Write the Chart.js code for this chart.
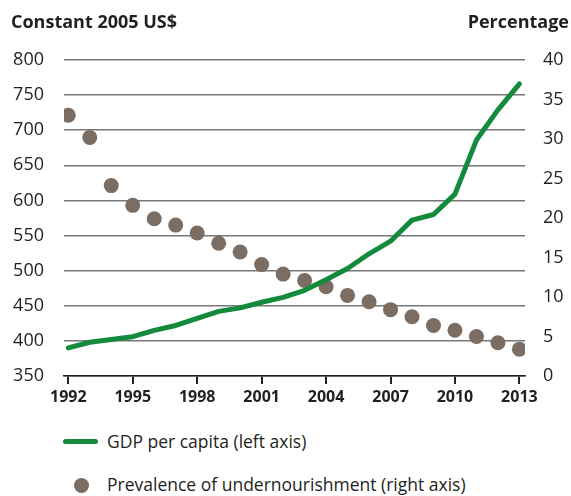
<!DOCTYPE html>
<html>
<head>
<meta charset="utf-8">
<script src="https://cdn.jsdelivr.net/npm/chart.js@4"></script>
<style>
  body { margin:0; background:#fff; font-family:"Open Sans", sans-serif; color:#231f20; }
  #wrap { position:relative; width:571px; height:496px; }
  #chart { position:absolute; left:0; top:0; }
  .title { position:absolute; top:12px; font-weight:bold; font-size:18px; line-height:18px; white-space:nowrap; }
  .leg { position:absolute; left:107px; font-size:17.5px; line-height:17.5px; white-space:nowrap; }
</style>
</head>
<body>
<div id="wrap">
  <canvas id="chart" width="571" height="420"></canvas>
  <div class="title" style="left:11px">Constant 2005 US$</div>
  <div class="title" style="right:2px">Percentage</div>
  <span style="position:absolute;left:63px;top:438.5px;width:35px;height:5px;background:#138a3c;border-radius:2.5px"></span>
  <div class="leg" style="top:433px">GDP per capita (left axis)</div>
  <span style="position:absolute;left:73.5px;top:477.5px;width:15px;height:15px;background:#7c6d63;border-radius:50%"></span>
  <div class="leg" style="top:476px">Prevalence of undernourishment (right axis)</div>
</div>
<script>
// GDP per capita vs. prevalence of undernourishment
const years = [1992,1993,1994,1995,1996,1997,1998,1999,2000,2001,2002,2003,2004,2005,2006,2007,2008,2009,2010,2011,2012,2013];
const gdp = [390,398,402,406,415,422,432,442,447,455,462,472,487,503,524,542,572,580,609,686,729,766];
const undernourishment = [33.0,30.2,24.1,21.6,19.9,19.1,18.1,16.8,15.7,14.1,12.9,12.1,11.3,10.2,9.4,8.4,7.5,6.4,5.8,5.0,4.2,3.4];
const yearTicks = [1992,1995,1998,2001,2004,2007,2010,2013];

const ink = "#231f20";
const ctx = document.getElementById("chart").getContext("2d");

new Chart(ctx, {
  type: 'line',
  data: {
    datasets: [
      { label:'GDP per capita (left axis)', data: years.map((y,i)=>({x:y, y:gdp[i]})), yAxisID:'yL',
        borderColor:'#138a3c', borderWidth:5, pointRadius:0, tension:0, borderJoinStyle:'round', borderCapStyle:'round', order:1 },
      { label:'Prevalence of undernourishment (right axis)', data: years.map((y,i)=>({x:y, y:undernourishment[i]})), yAxisID:'yR',
        showLine:false, pointRadius:7.5, pointBackgroundColor:'#7c6d63', pointBorderWidth:0, order:2 }
    ]
  },
  options: {
    responsive:false, animation:false,
    layout:{ padding:{ top:60, bottom:0, left:0, right:0 } },
    plugins:{ legend:{display:false}, tooltip:{enabled:false} },
    scales:{
      x:{ type:'linear', min:1991.8, max:2013.26,
        afterBuildTicks: s => { s.ticks = yearTicks.map(v=>({value:v})); },
        afterFit: s => { s.height = 44; },
        grid:{ drawOnChartArea:false, drawTicks:true, tickLength:8, color:ink, lineWidth:2 },
        border:{ display:true, color:ink, width:1.5 },
        ticks:{ padding:4, color:ink, font:{ family:'Open Sans', size:16, weight:'bold' }, callback: v => String(v) }
      },
      yL:{ position:'left', min:350, max:800,
        afterFit: s => { s.width = 64; },
        grid:{ color:'#777', lineWidth:1.5, drawTicks:false },
        border:{ display:false },
        ticks:{ stepSize:50, padding:20, color:ink, font:{ family:'Open Sans', size:18 } }
      },
      yR:{ position:'right', min:0, max:40,
        afterFit: s => { s.width = 46; },
        grid:{ display:false, drawTicks:false },
        border:{ display:false },
        ticks:{ stepSize:5, padding:18, color:ink, font:{ family:'Open Sans', size:18 } }
      }
    }
  }
});
</script>
</body>
</html>
